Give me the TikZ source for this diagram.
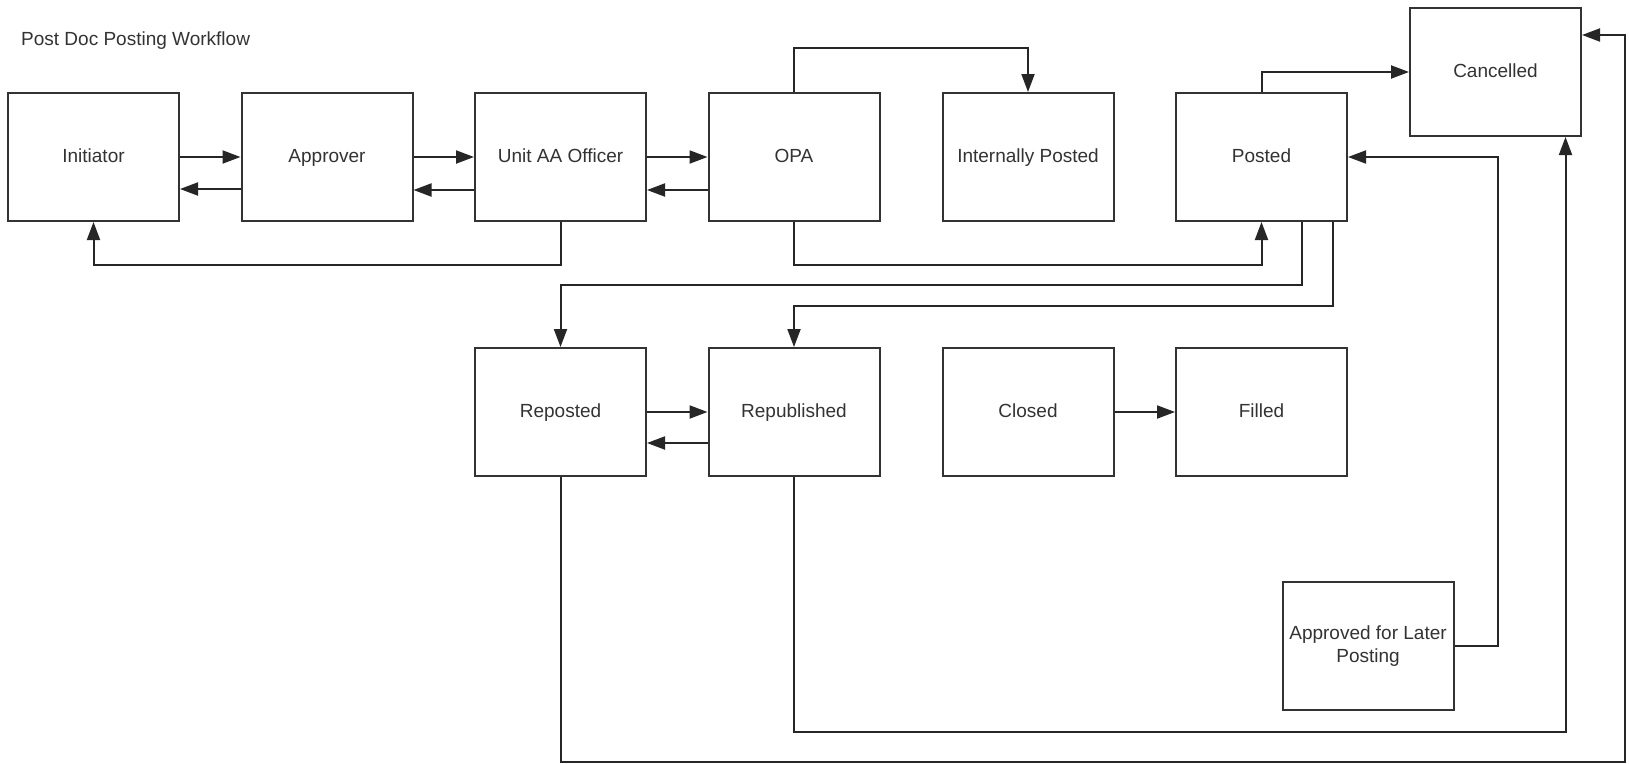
\documentclass[tikz,border=0pt]{standalone}
\usepackage{fontspec}
\setmainfont{Liberation Sans}
\usetikzlibrary{arrows.meta,calc}
\definecolor{ink}{HTML}{333333}
\definecolor{wire}{HTML}{262626}
\begin{document}
\begin{tikzpicture}[x=1pt,y=-1pt,
  box/.style={draw=ink,line width=2pt,fill=white,minimum width=171pt,minimum height=128pt,
    inner sep=2pt,text=ink,font=\fontsize{19pt}{23pt}\selectfont,align=center},
  state/.style={box,text height=14pt,text depth=4pt},
  arr/.style={draw=wire,line width=2pt,-{Triangle[length=18pt,width=13pt]}}]
\useasboundingbox (0,0) rectangle (1629,763);
\fill[white] (0,0) rectangle (1629,763);

% title
\node[anchor=base west,inner sep=0pt,text=ink,font=\fontsize{19pt}{23pt}\selectfont] (title) at (21,45.7) {Post Doc Posting Workflow};

% top row
\node[state] (init)   at (93.5,157)  {Initiator};
\node[state] (appr)   at (327,157)   {Approver};
\node[state] (unit)   at (560.5,157) {Unit AA Officer};
\node[state] (opa)    at (794,157)   {OPA};
\node[state] (intp)   at (1028,157)  {Internally Posted};
\node[state] (posted) at (1261.5,157){Posted};
\node[state] (canc)   at (1495.5,72) {Cancelled};

% second row
\node[state] (repo)   at (560.5,412) {Reposted};
\node[state] (repub)  at (794,412)   {Republished};
\node[state] (closed) at (1028,412)  {Closed};
\node[state] (filled) at (1261.5,412){Filled};

\node[box] (later)  at (1368,646)  {Approved for Later\\Posting};

% approval chain, forward and back
\draw[arr] (init.east) -- (appr.west);
\draw[arr] ([yshift=-32pt]appr.west) -- ([yshift=-32pt]init.east);
\draw[arr] (appr.east) -- (unit.west);
\draw[arr] ([yshift=-33pt]unit.west) -- ([yshift=-33pt]appr.east);
\draw[arr] (unit.east) -- (opa.west);
\draw[arr] ([yshift=-33pt]opa.west) -- ([yshift=-33pt]unit.east);

% returns and postings
\draw[arr] (unit.south) -- ++(0,43) -| (init.south);
\draw[arr] (opa.north) -- ++(0,-44) -| (intp.north);
\draw[arr] (opa.south) -- ++(0,43) -| (posted.south);
\draw[arr] (posted.north) |- (canc.west);
\draw[arr] ([xshift=40.5pt]posted.south) -- ++(0,63) -| (repo.north);
\draw[arr] ([xshift=71.5pt]posted.south) -- ++(0,84) -| (repub.north);

% second row links
\draw[arr] (repo.east) -- (repub.west);
\draw[arr] ([yshift=-31pt]repub.west) -- ([yshift=-31pt]repo.east);
\draw[arr] (closed.east) -- (filled.west);

% later posting back to Posted
\draw[arr] (later.east) -- ++(43,0) |- (posted.east);

% cancellations
\draw[arr] (repub.south) -- ++(0,255) -| ([xshift=70pt]canc.south);
\coordinate (rr) at ($(canc.east)+(43,-37)$);
\draw[arr] (repo.south) -- ++(0,285) -| (rr) -- ([yshift=37pt]canc.east);
\end{tikzpicture}
\end{document}
